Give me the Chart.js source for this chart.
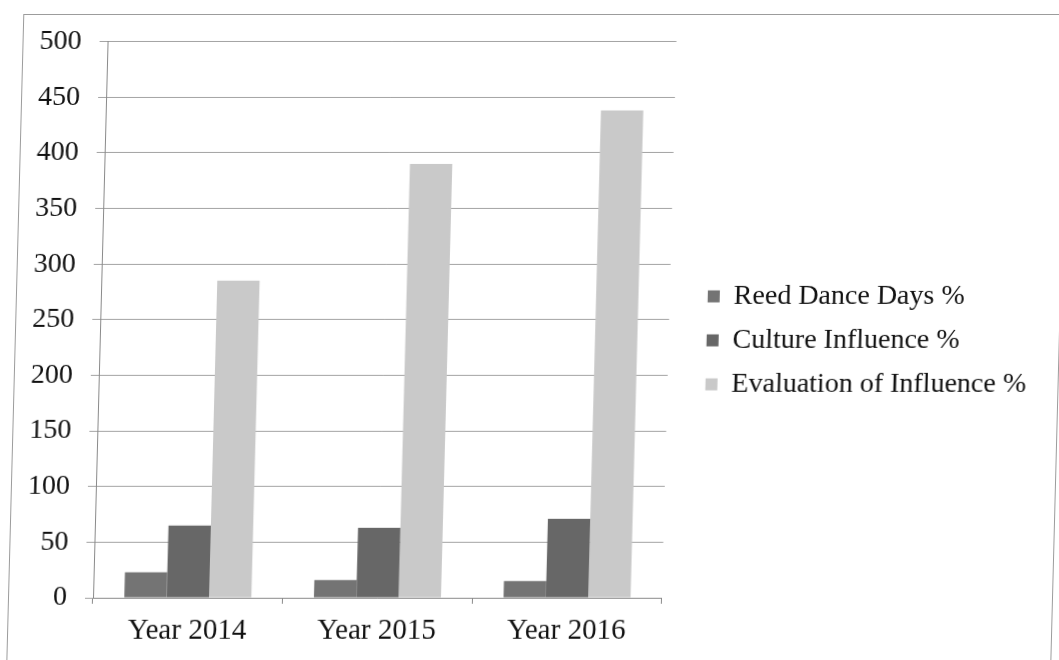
<!DOCTYPE html>
<html lang="en">
<head>
<title>Reed Dance Days, Culture Influence and Evaluation</title>
<meta charset="utf-8"/>
<script src="https://cdn.jsdelivr.net/npm/chart.js"></script>
<style>
html, body {
  margin: 0;
  padding: 0;
  background: #fff;
  overflow: hidden;
}
#frame {
  position: absolute;
  left: 0;
  top: 0;
  width: 1059px;
  height: 660px;
  transform: skewX(-1.5deg);
  transform-origin: 0 598px;
}
#border {
  position: absolute;
  left: 8px;
  top: 14px;
  width: 1043px;
  height: 700px;
  border: 1px solid #9c9c9c;
}
#chart {
  position: absolute;
  left: 0;
  top: 0;
}
</style>
</head>
<body>
<div id="frame">
  <div id="border"></div>
  <canvas id="chart" width="1059" height="660"></canvas>
</div>
<script>
"use strict";
const years = ["Year 2014", "Year 2015", "Year 2016"];
const reedDance = [23, 16, 15];
const cultureInfluence = [65, 63, 71];
const evaluationInfluence = [285, 390, 438];
const yTicks = [0, 50, 100, 150, 200, 250, 300, 350, 400, 450, 500];

const serif = "'Liberation Serif', 'Times New Roman', serif";
const gridColor = "#a3a3a3";

// empty axis used only to reserve some room
function spacer(position, size){
  return {
    type: "category",
    position: position,
    grid: {display: false},
    border: {display: false},
    ticks: {display: false},
    afterFit: s => {
      if(position === "top"){ s.height = size; }else{ s.width = size; }
    }
  };
}

new Chart(document.getElementById("chart"), {
  type: "bar",
  data: {
    labels: years,
    datasets: [
      {label: "Reed Dance Days %", data: reedDance, backgroundColor: "#747474"},
      {label: "Culture Influence %", data: cultureInfluence, backgroundColor: "#676767"},
      {label: "Evaluation of Influence %", data: evaluationInfluence, backgroundColor: "#c9c9c9"}
    ]
  },
  options: {
    responsive: false,
    animation: false,
    layout: {
      padding: {left: 0, top: 22.4, right: 28.5, bottom: 1.2}
    },
    datasets: {
      bar: {
        categoryPercentage: 0.67,
        barPercentage: 1.0,
        borderWidth: 0
      }
    },
    plugins: {
      tooltip: {enabled: false},
      legend: {
        position: "right",
        maxWidth: 420,
        labels: {
          boxWidth: 12,
          boxHeight: 12,
          padding: 16,
          color: "#111",
          font: {family: serif, size: 28}
        }
      }
    },
    scales: {
      x: {
        grid: {
          drawOnChartArea: false,
          tickLength: 6,
          color: "#8a8a8a"
        },
        border: {color: "#8a8a8a"},
        ticks: {
          padding: 10,
          color: "#111",
          font: {family: serif, size: 29}
        }
      },
      y: {
        min: 0,
        max: 500,
        afterBuildTicks: s => { s.ticks = yTicks.map(v => ({value: v})); },
        grid: {
          color: gridColor,
          tickLength: 8
        },
        border: {color: "#8a8a8a"},
        ticks: {
          padding: 18,
          color: "#111",
          font: {family: serif, size: 28}
        },
        afterFit: s => { s.width = 93; }
      },
      topGap: spacer("top", 19.2),
      rightGap: spacer("right", 22)
    }
  }
});
</script>
</body>
</html>
